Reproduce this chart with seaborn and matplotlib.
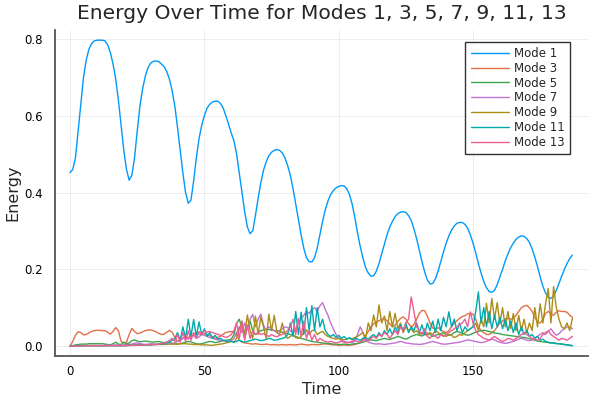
import seaborn as sns
import matplotlib
matplotlib.use("Agg")
import matplotlib.pyplot as plt
import numpy as np
import pandas as pd

# time grid, one sample per time unit
time = np.arange(0, 188)

mode_1 = [
    0.452, 0.46, 0.49, 0.56, 0.63, 0.70, 0.745, 0.773, 0.788, 0.795,
    0.797, 0.797, 0.797, 0.795, 0.785, 0.765, 0.735, 0.695, 0.64, 0.575,
    0.51, 0.46, 0.432, 0.445, 0.49, 0.56, 0.625, 0.67, 0.703, 0.725,
    0.737, 0.742, 0.743, 0.741, 0.735, 0.728, 0.715, 0.695, 0.665, 0.625,
    0.57, 0.51, 0.45, 0.40, 0.372, 0.38, 0.43, 0.49, 0.54, 0.575,
    0.60, 0.62, 0.63, 0.636, 0.638, 0.638, 0.632, 0.62, 0.60, 0.578,
    0.555, 0.535, 0.50, 0.45, 0.40, 0.35, 0.31, 0.293, 0.30, 0.34,
    0.385, 0.425, 0.458, 0.48, 0.496, 0.505, 0.51, 0.512, 0.51, 0.503,
    0.49, 0.47, 0.445, 0.41, 0.37, 0.33, 0.29, 0.255, 0.23, 0.22,
    0.219, 0.23, 0.255, 0.29, 0.325, 0.355, 0.378, 0.395, 0.405, 0.412,
    0.416, 0.418, 0.417, 0.41, 0.395, 0.37, 0.335, 0.295, 0.26, 0.23,
    0.205, 0.19, 0.182, 0.183, 0.195, 0.215, 0.24, 0.265, 0.29, 0.31,
    0.325, 0.337, 0.345, 0.349, 0.35, 0.348, 0.34, 0.327, 0.305, 0.28,
    0.25, 0.22, 0.193, 0.172, 0.162, 0.163, 0.175, 0.195, 0.22, 0.245,
    0.268, 0.287, 0.302, 0.313, 0.32, 0.322, 0.322, 0.317, 0.307, 0.29,
    0.268, 0.243, 0.215, 0.19, 0.168, 0.152, 0.142, 0.14, 0.145, 0.16,
    0.18, 0.2, 0.222, 0.24, 0.256, 0.268, 0.278, 0.284, 0.287, 0.286,
    0.28, 0.27, 0.253, 0.232, 0.207, 0.18, 0.156, 0.138, 0.127, 0.124,
    0.13, 0.145, 0.163, 0.182, 0.2, 0.215, 0.228, 0.237,
]

mode_3 = [
    0, 0.012, 0.028, 0.037, 0.035, 0.029, 0.03, 0.034, 0.038, 0.04,
    0.041, 0.041, 0.04, 0.04, 0.036, 0.031, 0.038, 0.048, 0.04, 0.012,
    0.008, 0.01, 0.03, 0.046, 0.038, 0.032, 0.034, 0.037, 0.04, 0.042,
    0.042, 0.04, 0.037, 0.033, 0.03, 0.031, 0.036, 0.041, 0.036, 0.022,
    0.012, 0.015, 0.02, 0.024, 0.022, 0.026, 0.03, 0.034, 0.031, 0.03,
    0.032, 0.03, 0.027, 0.024, 0.02, 0.022, 0.026, 0.031, 0.035, 0.037,
    0.038, 0.036, 0.028, 0.016, 0.01, 0.008, 0.007, 0.006, 0.005, 0.006,
    0.005, 0.004, 0.004, 0.005, 0.004, 0.003, 0.004, 0.003, 0.003, 0.004,
    0.003, 0.003, 0.004, 0.003, 0.003, 0.004, 0.005, 0.004, 0.003, 0.003,
    0.004, 0.004, 0.003, 0.004, 0.005, 0.006, 0.005, 0.004, 0.003, 0.003,
    0.002, 0.002, 0.003, 0.002, 0.002, 0.003, 0.004, 0.006, 0.01, 0.016,
    0.026, 0.038, 0.05, 0.058, 0.062, 0.066, 0.07, 0.072, 0.066, 0.058,
    0.05, 0.055, 0.064, 0.072, 0.076, 0.07, 0.058, 0.05, 0.056, 0.07,
    0.085, 0.093, 0.092, 0.078, 0.06, 0.047, 0.044, 0.048, 0.042, 0.038,
    0.035, 0.04, 0.05, 0.06, 0.066, 0.072, 0.077, 0.079, 0.084, 0.085,
    0.083, 0.07, 0.05, 0.04, 0.035, 0.03, 0.03, 0.035, 0.04, 0.05,
    0.06, 0.065, 0.07, 0.072, 0.07, 0.072, 0.08, 0.09, 0.1, 0.104,
    0.106, 0.1, 0.09, 0.075, 0.062, 0.06, 0.07, 0.085, 0.09, 0.085,
    0.08, 0.088, 0.092, 0.09, 0.09, 0.088, 0.08, 0.075,
]

mode_5 = [
    0, 0.001, 0.003, 0.004, 0.005, 0.005, 0.005, 0.006, 0.006, 0.006,
    0.006, 0.006, 0.006, 0.005, 0.004, 0.003, 0.006, 0.01, 0.005, 0.004,
    0.01, 0.006, 0.008, 0.014, 0.016, 0.013, 0.011, 0.012, 0.013, 0.012,
    0.011, 0.01, 0.011, 0.012, 0.01, 0.009, 0.01, 0.009, 0.007, 0.006,
    0.005, 0.006, 0.008, 0.01, 0.012, 0.011, 0.008, 0.006, 0.005, 0.006,
    0.008, 0.01, 0.012, 0.011, 0.009, 0.01, 0.012, 0.014, 0.015, 0.016,
    0.018, 0.03, 0.06, 0.07, 0.045, 0.02, 0.05, 0.065, 0.04, 0.03,
    0.035, 0.04, 0.042, 0.044, 0.043, 0.042, 0.04, 0.04, 0.038, 0.036,
    0.034, 0.032, 0.03, 0.028, 0.025, 0.022, 0.02, 0.018, 0.016, 0.014,
    0.012, 0.011, 0.01, 0.009, 0.008, 0.007, 0.006, 0.006, 0.005, 0.005,
    0.004, 0.004, 0.005, 0.004, 0.004, 0.005, 0.006, 0.007, 0.008, 0.01,
    0.012, 0.014, 0.016, 0.015, 0.014, 0.016, 0.018, 0.02, 0.018, 0.017,
    0.02, 0.022, 0.025, 0.023, 0.02, 0.018, 0.021, 0.025, 0.028, 0.03,
    0.028, 0.026, 0.03, 0.034, 0.03, 0.025, 0.028, 0.03, 0.032, 0.035,
    0.03, 0.028, 0.03, 0.035, 0.038, 0.036, 0.033, 0.03, 0.028, 0.03,
    0.033, 0.036, 0.038, 0.04, 0.041, 0.04, 0.038, 0.036, 0.034, 0.033,
    0.032, 0.03, 0.029, 0.028, 0.027, 0.026, 0.025, 0.024, 0.023, 0.022,
    0.021, 0.019, 0.017, 0.015, 0.013, 0.012, 0.011, 0.01, 0.009, 0.008,
    0.008, 0.007, 0.006, 0.005, 0.004, 0.003, 0.002, 0.001,
]

mode_7 = [
    0, 0, 0, 0.001, 0.001, 0.001, 0.001, 0.001, 0.001, 0.001,
    0.001, 0.001, 0.001, 0.001, 0.002, 0.002, 0.002, 0.003, 0.002, 0.002,
    0.003, 0.004, 0.004, 0.005, 0.007, 0.008, 0.006, 0.005, 0.004, 0.005,
    0.006, 0.005, 0.004, 0.005, 0.006, 0.005, 0.004, 0.005, 0.006, 0.008,
    0.012, 0.016, 0.02, 0.025, 0.018, 0.022, 0.028, 0.02, 0.024, 0.03,
    0.028, 0.025, 0.022, 0.02, 0.018, 0.016, 0.015, 0.014, 0.012, 0.012,
    0.014, 0.02, 0.035, 0.05, 0.035, 0.06, 0.045, 0.07, 0.082, 0.05,
    0.07, 0.083, 0.055, 0.04, 0.05, 0.045, 0.04, 0.035, 0.04, 0.045,
    0.05, 0.048, 0.04, 0.035, 0.045, 0.06, 0.07, 0.08, 0.09, 0.085,
    0.095, 0.1, 0.09, 0.105, 0.113, 0.095, 0.08, 0.06, 0.045, 0.03,
    0.02, 0.015, 0.012, 0.01, 0.01, 0.009, 0.012, 0.03, 0.05, 0.035,
    0.015, 0.01, 0.008, 0.006, 0.005, 0.006, 0.005, 0.004, 0.005, 0.006,
    0.007, 0.008, 0.01, 0.012, 0.01, 0.008, 0.007, 0.006, 0.005, 0.005,
    0.004, 0.005, 0.006, 0.008, 0.01, 0.012, 0.01, 0.008, 0.006, 0.005,
    0.005, 0.006, 0.007, 0.008, 0.009, 0.01, 0.012, 0.014, 0.016, 0.015,
    0.013, 0.012, 0.01, 0.009, 0.01, 0.012, 0.015, 0.018, 0.016, 0.012,
    0.01, 0.008, 0.007, 0.008, 0.01, 0.012, 0.015, 0.018, 0.02, 0.018,
    0.015, 0.014, 0.016, 0.02, 0.025, 0.03, 0.035, 0.03, 0.038, 0.045,
    0.035, 0.028, 0.032, 0.04, 0.045, 0.05, 0.05, 0.045,
]

mode_9 = [
    0, 0, 0, 0, 0.001, 0.001, 0.001, 0.001, 0.001, 0.001,
    0.001, 0.001, 0.001, 0.001, 0.001, 0.001, 0.001, 0.001, 0.001, 0.001,
    0.001, 0.002, 0.002, 0.002, 0.003, 0.003, 0.003, 0.003, 0.003, 0.003,
    0.003, 0.004, 0.004, 0.004, 0.004, 0.004, 0.005, 0.005, 0.005, 0.005,
    0.005, 0.006, 0.006, 0.006, 0.005, 0.005, 0.004, 0.004, 0.004, 0.003,
    0.003, 0.003, 0.002, 0.002, 0.003, 0.004, 0.005, 0.006, 0.008, 0.01,
    0.012, 0.01, 0.02, 0.045, 0.064, 0.03, 0.081, 0.04, 0.02, 0.078,
    0.03, 0.075, 0.05, 0.02, 0.083, 0.04, 0.08, 0.035, 0.03, 0.06,
    0.03, 0.02, 0.025, 0.03, 0.022, 0.02, 0.025, 0.035, 0.042, 0.03,
    0.04, 0.042, 0.03, 0.035, 0.038, 0.03, 0.025, 0.022, 0.02, 0.018,
    0.02, 0.018, 0.016, 0.018, 0.02, 0.019, 0.022, 0.025, 0.03, 0.035,
    0.02, 0.06, 0.04, 0.081, 0.05, 0.107, 0.06, 0.078, 0.04, 0.09,
    0.05, 0.085, 0.045, 0.06, 0.035, 0.05, 0.04, 0.045, 0.035, 0.04,
    0.03, 0.035, 0.03, 0.028, 0.035, 0.03, 0.04, 0.035, 0.03, 0.028,
    0.025, 0.03, 0.028, 0.022, 0.025, 0.03, 0.028, 0.035, 0.04, 0.045,
    0.05, 0.06, 0.04, 0.07, 0.05, 0.111, 0.06, 0.124, 0.07, 0.113,
    0.06, 0.1, 0.05, 0.09, 0.045, 0.085, 0.04, 0.08, 0.04, 0.07,
    0.035, 0.06, 0.04, 0.1, 0.05, 0.11, 0.06, 0.11, 0.15, 0.06,
    0.155, 0.1, 0.07, 0.05, 0.045, 0.06, 0.04, 0.072,
]

mode_11 = [
    0, 0, 0, 0, 0, 0.001, 0.001, 0.001, 0.001, 0.001,
    0.001, 0.001, 0.001, 0.001, 0.001, 0.001, 0.001, 0.001, 0.001, 0.001,
    0.001, 0.001, 0.002, 0.002, 0.002, 0.002, 0.003, 0.003, 0.003, 0.003,
    0.003, 0.004, 0.004, 0.005, 0.005, 0.006, 0.008, 0.01, 0.015, 0.02,
    0.035, 0.015, 0.05, 0.02, 0.07, 0.025, 0.069, 0.025, 0.063, 0.03,
    0.045, 0.025, 0.035, 0.02, 0.028, 0.018, 0.02, 0.015, 0.014, 0.012,
    0.012, 0.01, 0.012, 0.015, 0.012, 0.01, 0.012, 0.014, 0.016, 0.018,
    0.016, 0.014, 0.015, 0.017, 0.02, 0.018, 0.015, 0.016, 0.018, 0.02,
    0.022, 0.03, 0.06, 0.025, 0.09, 0.03, 0.088, 0.03, 0.1, 0.04,
    0.105, 0.04, 0.1, 0.05, 0.07, 0.04, 0.03, 0.025, 0.03, 0.022,
    0.028, 0.02, 0.025, 0.018, 0.022, 0.016, 0.02, 0.018, 0.015, 0.02,
    0.022, 0.018, 0.025, 0.03, 0.022, 0.035, 0.025, 0.04, 0.03, 0.045,
    0.03, 0.05, 0.035, 0.055, 0.04, 0.06, 0.035, 0.05, 0.04, 0.06,
    0.035, 0.055, 0.03, 0.06, 0.04, 0.065, 0.035, 0.07, 0.04, 0.075,
    0.05, 0.089, 0.05, 0.07, 0.04, 0.06, 0.035, 0.05, 0.04, 0.045,
    0.05, 0.09, 0.141, 0.06, 0.1, 0.05, 0.09, 0.045, 0.08, 0.05,
    0.075, 0.045, 0.07, 0.04, 0.065, 0.035, 0.06, 0.03, 0.05, 0.03,
    0.04, 0.025, 0.03, 0.02, 0.025, 0.015, 0.018, 0.012, 0.01, 0.008,
    0.008, 0.006, 0.006, 0.005, 0.004, 0.003, 0.002, 0.001,
]

mode_13 = [
    0, 0, 0, 0, 0, 0, 0.001, 0.001, 0.001, 0.001,
    0.001, 0.001, 0.001, 0.001, 0.001, 0.001, 0.001, 0.001, 0.001, 0.001,
    0.001, 0.001, 0.001, 0.002, 0.002, 0.002, 0.002, 0.003, 0.003, 0.003,
    0.003, 0.004, 0.004, 0.005, 0.006, 0.008, 0.01, 0.015, 0.02, 0.012,
    0.03, 0.01, 0.035, 0.012, 0.04, 0.015, 0.035, 0.02, 0.038, 0.03,
    0.04, 0.036, 0.038, 0.035, 0.033, 0.03, 0.028, 0.025, 0.022, 0.025,
    0.03, 0.04, 0.06, 0.02, 0.065, 0.015, 0.055, 0.02, 0.04, 0.03,
    0.035, 0.03, 0.032, 0.028, 0.025, 0.03, 0.026, 0.024, 0.028, 0.03,
    0.035, 0.04, 0.05, 0.07, 0.03, 0.072, 0.025, 0.065, 0.02, 0.04,
    0.015, 0.03, 0.012, 0.02, 0.015, 0.012, 0.01, 0.012, 0.01, 0.008,
    0.01, 0.012, 0.01, 0.008, 0.01, 0.012, 0.015, 0.012, 0.01, 0.014,
    0.018, 0.015, 0.02, 0.025, 0.02, 0.03, 0.025, 0.035, 0.03, 0.02,
    0.03, 0.04, 0.03, 0.05, 0.04, 0.06, 0.07, 0.128, 0.09, 0.05,
    0.04, 0.03, 0.045, 0.025, 0.02, 0.03, 0.025, 0.02, 0.03, 0.025,
    0.03, 0.035, 0.04, 0.045, 0.05, 0.055, 0.06, 0.07, 0.05, 0.089,
    0.06, 0.04, 0.03, 0.025, 0.02, 0.018, 0.015, 0.02, 0.025, 0.02,
    0.015, 0.012, 0.015, 0.02, 0.018, 0.015, 0.02, 0.025, 0.03, 0.035,
    0.03, 0.025, 0.02, 0.018, 0.015, 0.02, 0.03, 0.035, 0.04, 0.03,
    0.025, 0.02, 0.015, 0.02, 0.018, 0.015, 0.02, 0.025,
]

mode_names = ["Mode 1", "Mode 3", "Mode 5", "Mode 7", "Mode 9", "Mode 11", "Mode 13"]
mode_values = [mode_1, mode_3, mode_5, mode_7, mode_9, mode_11, mode_13]
colors = ["#009AFA", "#E36F47", "#3EA44E", "#C371D2", "#AC8D18", "#00A9AD", "#ED5E93"]

df = pd.concat(
    [pd.DataFrame({"Time": time, "Energy": vals, "Mode": name})
     for name, vals in zip(mode_names, mode_values)],
    ignore_index=True,
)

sns.set_style("white")
plt.rcParams['font.family'] = ['DejaVu Sans']

fig = plt.figure(figsize=(6, 4), dpi=100)
ax = fig.add_axes([0.0917, 0.11, 0.8883, 0.815])

sns.lineplot(data=df, x="Time", y="Energy", hue="Mode", hue_order=mode_names,
             palette=colors, estimator=None, sort=False, linewidth=1.0, ax=ax)

ax.set_xlim(-5.6, 192.8)
ax.set_ylim(-0.026, 0.8235)
ax.set_xticks([0, 50, 100, 150])
ax.set_yticks([0.0, 0.2, 0.4, 0.6, 0.8])
ax.set_yticklabels(["0.0", "0.2", "0.4", "0.6", "0.8"])
ax.grid(True, color="black", alpha=0.08, linewidth=0.6)

for side in ["top", "right"]:
    ax.spines[side].set_visible(False)
for side in ["left", "bottom"]:
    ax.spines[side].set_color("#555555")
    ax.spines[side].set_linewidth(1.3)

ax.tick_params(axis="both", direction="out", color="#555555", labelsize=8.5,
               labelcolor="black", width=1.0)
ax.tick_params(axis="x", length=4, pad=2.5)
ax.tick_params(axis="y", length=5, pad=3.5)

ax.set_title("Energy Over Time for Modes 1, 3, 5, 7, 9, 11, 13", fontsize=14.6, pad=8)
ax.set_xlabel("Time", fontsize=11.5, labelpad=3)
ax.set_ylabel("Energy", fontsize=11.5, labelpad=3)

leg = ax.legend(loc="upper right", bbox_to_anchor=(0.966, 0.964), borderaxespad=0,
                fontsize=8.5, frameon=True, fancybox=False, edgecolor="black",
                handlelength=3.2, handletextpad=0.45, labelspacing=0.15,
                borderpad=0.45)
leg.get_frame().set_linewidth(1.0)

plt.savefig("out.png", dpi=100)
